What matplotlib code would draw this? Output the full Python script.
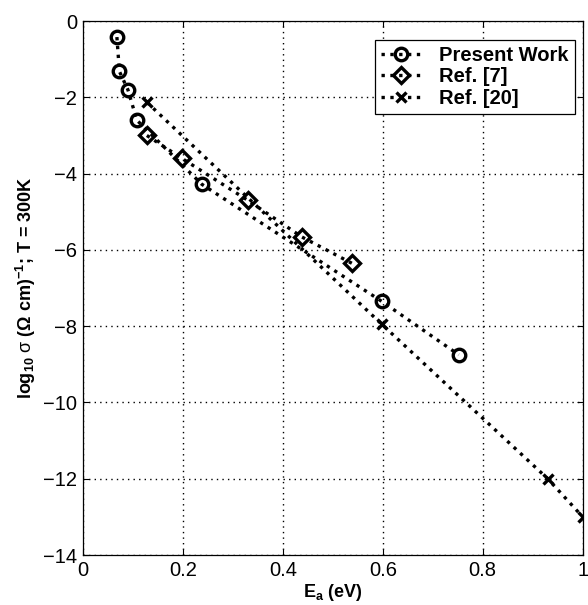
import matplotlib
matplotlib.use("Agg")
import matplotlib.pyplot as plt

# Present work
pw_ea = [0.068, 0.073, 0.09, 0.108, 0.238, 0.598, 0.752]
pw_log = [-0.42, -1.32, -1.8, -2.6, -4.28, -7.35, -8.75]

# Ref. [7]
r7_ea = [0.128, 0.198, 0.33, 0.438, 0.538]
r7_log = [-3.0, -3.6, -4.7, -5.66, -6.35]

# Ref. [20]
r20_ea = [0.128, 0.598, 0.93, 1.0]
r20_log = [-2.13, -7.95, -12.0, -13.0]


def main():
    plt.rcParams.update({"font.family": "Liberation Sans", "font.size": 14,
                         "mathtext.fontset": "custom",
                         "mathtext.rm": "Liberation Sans",
                         "mathtext.bf": "Liberation Sans:bold",
                         "mathtext.default": "bf"})

    fig = plt.figure(figsize=(5.88, 6.05), dpi=100)
    ax = fig.add_axes([0.141, 0.0826, 0.850, 0.8826])

    style = dict(color="black", linestyle=":", linewidth=2.4,
                 markerfacecolor="none", markeredgecolor="black",
                 markeredgewidth=2.4)
    ax.plot(pw_ea, pw_log, marker="o", markersize=9, label="Present Work", **style)
    ax.plot(r7_ea, r7_log, marker="D", markersize=8, label="Ref. [7]", **style)
    ax.plot(r20_ea, r20_log, marker="x", markersize=7, label="Ref. [20]", **style)

    ax.set_xlim(0, 1)
    ax.set_ylim(-14, 0)
    ax.set_xticks([0, 0.2, 0.4, 0.6, 0.8, 1])
    ax.set_xticklabels(["0", "0.2", "0.4", "0.6", "0.8", "1"])
    ax.set_yticks(range(-14, 1, 2))
    ax.set_yticklabels(["\u221214", "\u221212", "\u221210", "\u22128", "\u22126",
                        "\u22124", "\u22122", "0"])
    ax.tick_params(direction="in", length=4, width=0.8, top=True, right=True,
                   labelsize=14.5, pad=4)
    ax.grid(True, linestyle=(0, (1, 3)), color="black", linewidth=1.0)
    for s in ax.spines.values():
        s.set_linewidth(0.9)

    ax.set_xlabel(r"E$_\mathbf{a}$ (eV)", fontsize=13, fontweight="bold", labelpad=2)
    ax.set_ylabel(r"log$_\mathbf{10}$ $\mathrm{\sigma}$ ($\Omega$ cm)$^\mathbf{-1}$; T = 300K",
                  fontsize=13, fontweight="bold", labelpad=4)

    leg = ax.legend(loc="upper right", bbox_to_anchor=(0.992, 0.972),
                    prop={"weight": "bold", "size": 14.5}, handlelength=2.0,
                    handletextpad=0.9, borderpad=0.3, labelspacing=0.12,
                    borderaxespad=0.2, fancybox=False, edgecolor="black",
                    framealpha=1)
    leg.get_frame().set_linewidth(0.9)

    fig.savefig("out.png", dpi=100)


if __name__ == "__main__":
    main()
